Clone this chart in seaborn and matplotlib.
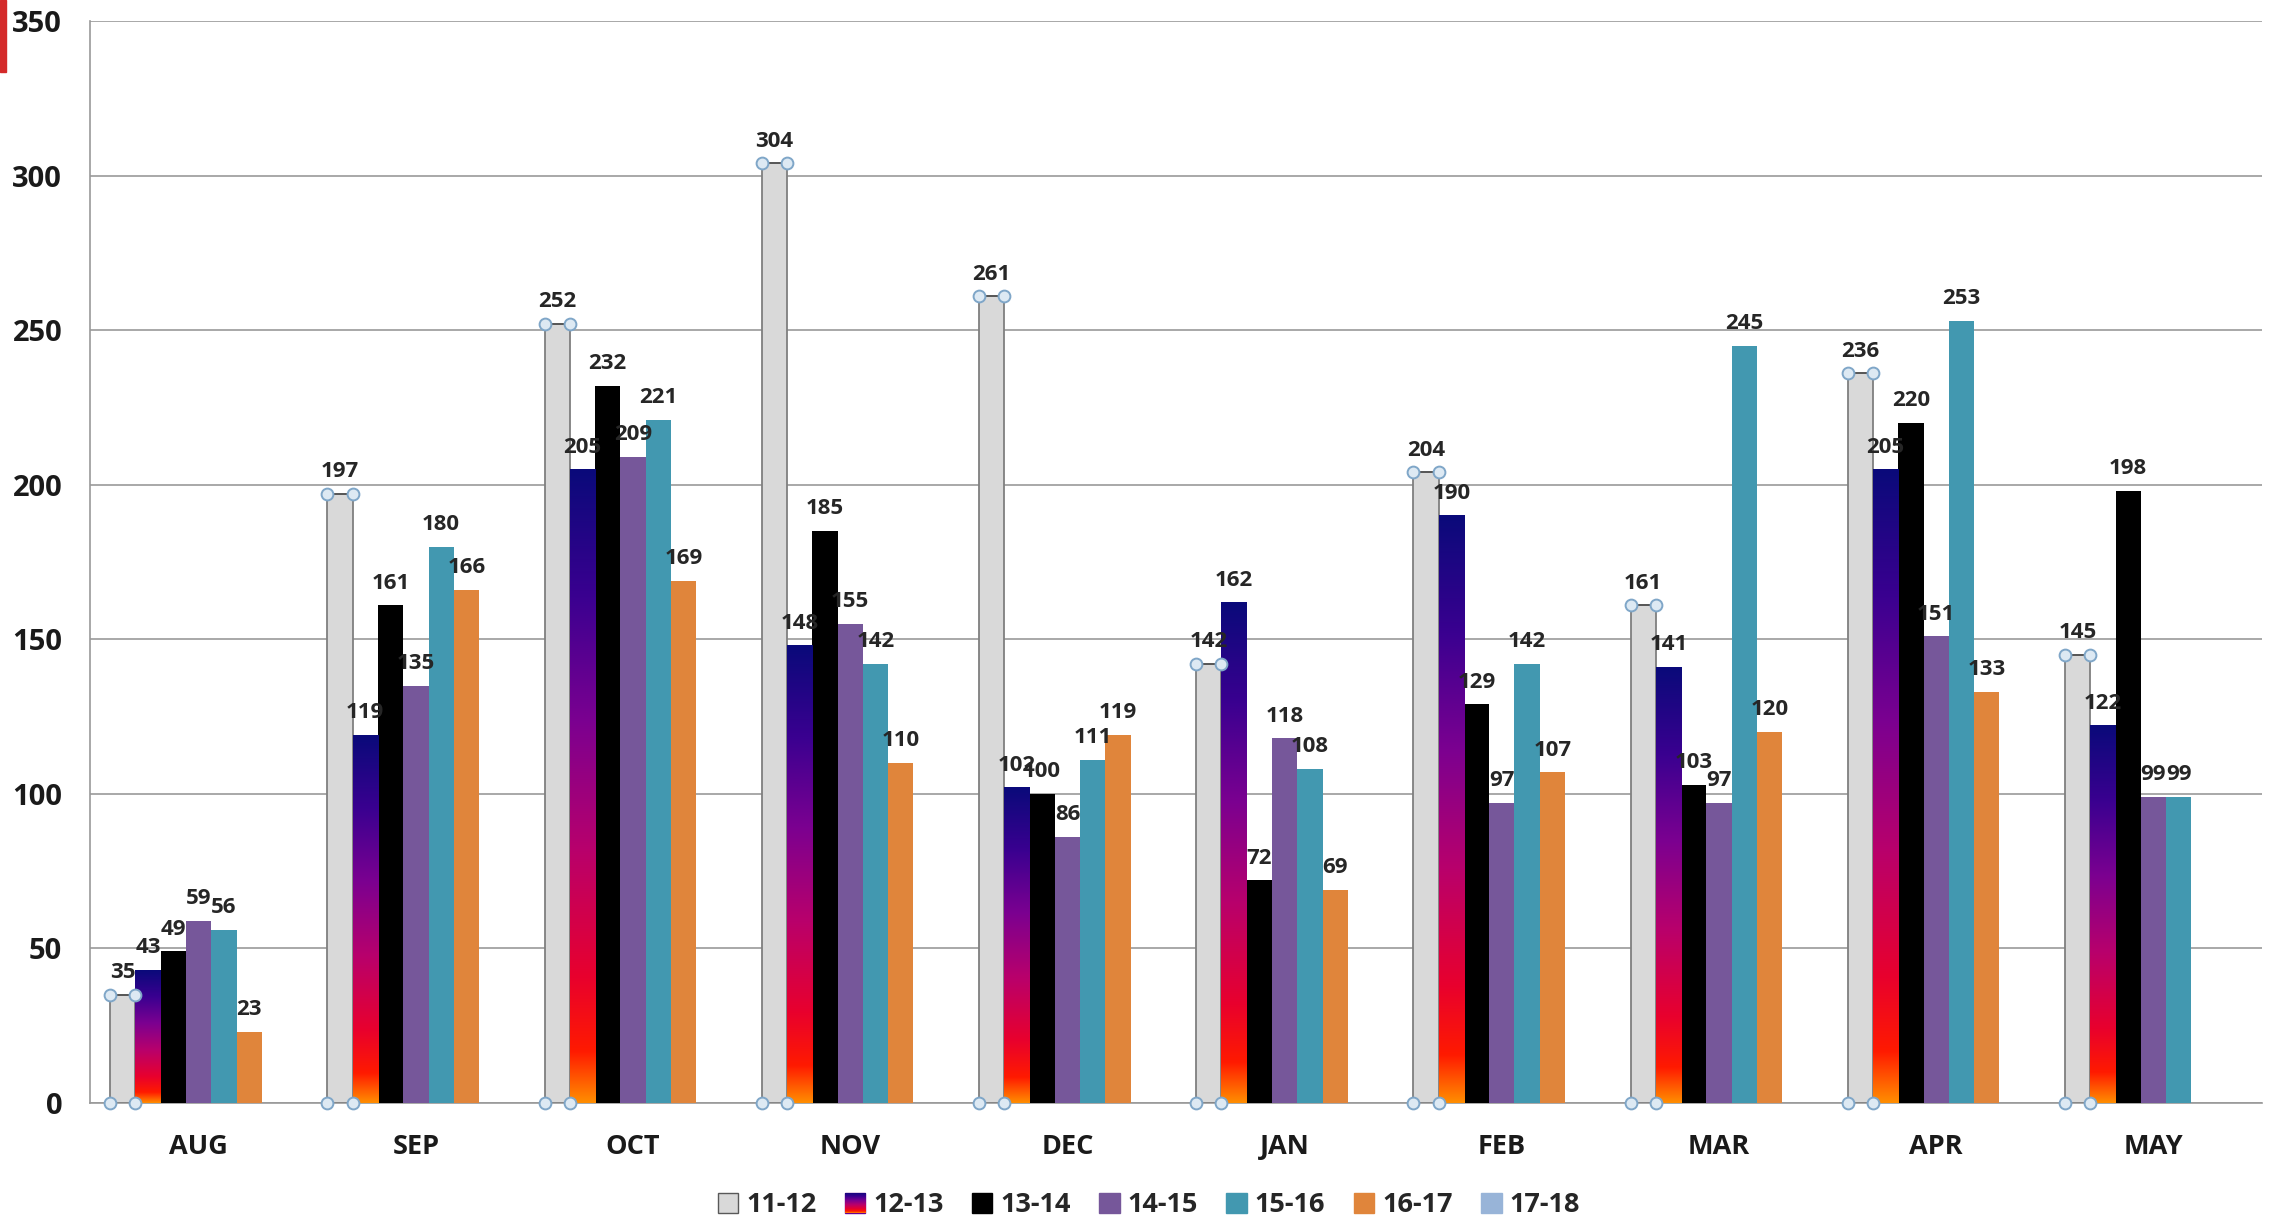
import numpy as np
import pandas as pd
import matplotlib
matplotlib.use("Agg")
import matplotlib.pyplot as plt
import seaborn as sns
from matplotlib.colors import LinearSegmentedColormap
from matplotlib.patches import Patch, Rectangle

# data
months = ["AUG", "SEP", "OCT", "NOV", "DEC", "JAN", "FEB", "MAR", "APR", "MAY"]
seasons = ["11-12", "12-13", "13-14", "14-15", "15-16", "16-17", "17-18"]

s_11_12 = [35, 197, 252, 304, 261, 142, 204, 161, 236, 145]
s_12_13 = [43, 119, 205, 148, 102, 162, 190, 141, 205, 122]
s_13_14 = [49, 161, 232, 185, 100, 72, 129, 103, 220, 198]
s_14_15 = [59, 135, 209, 155, 86, 118, 97, 97, 151, 99]
s_15_16 = [56, 180, 221, 142, 111, 108, 142, 245, 253, 99]
s_16_17 = [23, 166, 169, 110, 119, 69, 107, 120, 133, None]
s_17_18 = [None, None, None, None, None, None, None, None, None, None]

series = [s_11_12, s_12_13, s_13_14, s_14_15, s_15_16, s_16_17, s_17_18]

palette = {
    "11-12": "#D9D9D9",
    "12-13": "#6A0090",
    "13-14": "#000000",
    "14-15": "#76579A",
    "15-16": "#4298B0",
    "16-17": "#E0853B",
    "17-18": "#98B4D8",
}

rows = []
for season, vals in zip(seasons, series):
    for m, v in zip(months, vals):
        rows.append({"month": m, "season": season, "value": np.nan if v is None else v})
df = pd.DataFrame(rows)

sns.set_theme(style="white")
plt.rcParams["font.family"] = ["Open Sans", "DejaVu Sans"]

fig, ax = plt.subplots(figsize=(22.75, 12.17), dpi=100)
fig.subplots_adjust(left=0.0396, right=0.9943, top=0.9827, bottom=0.0937)

sns.barplot(data=df, x="month", y="value", hue="season", order=months,
            hue_order=seasons, palette=palette, width=0.815, gap=0,
            errorbar=None, saturation=1, legend=False, linewidth=0,
            zorder=3, ax=ax)

# gradient for the 12-13 bars (orange at the bottom, navy at the top)
grad_cmap = LinearSegmentedColormap.from_list("grad", [
    (0.0, "#FF8C00"), (0.08, "#FF1A00"), (0.2, "#E8002E"),
    (0.4, "#B8006C"), (0.6, "#7C0090"), (0.8, "#3A0090"), (1.0, "#0A0A7A")])
grad = np.linspace(0, 1, 256).reshape(-1, 1)

bars_1112 = ax.containers[0]
bars_1213 = ax.containers[1]

for p in bars_1213:
    x0, w, h = p.get_x(), p.get_width(), p.get_height()
    p.set_facecolor("none")
    ax.imshow(grad, extent=[x0, x0 + w, 0, h], aspect="auto", cmap=grad_cmap,
              origin="lower", interpolation="bilinear", zorder=3)

# grey bars with selection handles
for p in bars_1112:
    x0, w, h = p.get_x(), p.get_width(), p.get_height()
    p.set_edgecolor("#7F7F7F")
    p.set_linewidth(1.3)
    ax.plot([x0, x0 + w], [h, h], color="#4F4F4F", lw=1.2, zorder=4)
    ax.plot([x0, x0 + w, x0, x0 + w], [h, h, 0, 0], "o", ms=8.5,
            mfc="#DDE9F3", mec="#7FA6C8", mew=1.4, zorder=5, clip_on=False)

# value labels
for cont in ax.containers:
    for p in cont:
        h = p.get_height()
        if not np.isfinite(h):
            continue
        ax.annotate(f"{int(round(h))}", (p.get_x() + p.get_width() / 2, h),
                    xytext=(0, 12), textcoords="offset points", ha="center",
                    va="baseline", fontsize=16, fontweight="bold",
                    color="#262626", zorder=6)

ax.set_xlim(-0.5, 9.5)
ax.set_ylim(0, 350)
ax.set_yticks(range(0, 351, 50))
ax.set_xlabel("")
ax.set_ylabel("")
ax.set_axisbelow(True)
ax.yaxis.grid(True, color="#999999", linewidth=1.2)
ax.xaxis.grid(False)
for side in ["top", "right"]:
    ax.spines[side].set_visible(False)
for side in ["left", "bottom"]:
    ax.spines[side].set_color("#999999")
    ax.spines[side].set_linewidth(1.2)
ax.tick_params(axis="y", length=0, pad=20, labelsize=21, labelcolor="#1A1A1A")
ax.tick_params(axis="x", length=0, pad=22, labelsize=19.5, labelcolor="#1A1A1A")
for lab in ax.get_xticklabels() + ax.get_yticklabels():
    lab.set_fontweight("bold")

# legend
handles = [Patch(facecolor=palette[s],
                 edgecolor="#595959" if s == "11-12" else palette[s])
           for s in seasons]
leg = fig.legend(handles, seasons, loc="center", bbox_to_anchor=(0.505, 0.0095),
                 ncol=7, frameon=False, prop={"weight": "bold", "size": 19.5},
                 handlelength=0.75, handleheight=0.8, handletextpad=0.3,
                 columnspacing=1.05, borderpad=0, borderaxespad=0)

fig.canvas.draw()
bb = leg.legend_handles[1].get_window_extent().transformed(fig.transFigure.inverted())
lax = fig.add_axes([bb.x0, bb.y0, bb.width, bb.height])
lax.imshow(grad, aspect="auto", cmap=grad_cmap, origin="lower")
lax.set_axis_off()
lax.set_zorder(10)

# small red strip at the top-left corner of the original screenshot
fig.patches.append(Rectangle((0, 1 - 72 / 1217), 6 / 2275, 72 / 1217,
                             transform=fig.transFigure, color="#D42A2A"))

fig.savefig("out.png", dpi=100)
